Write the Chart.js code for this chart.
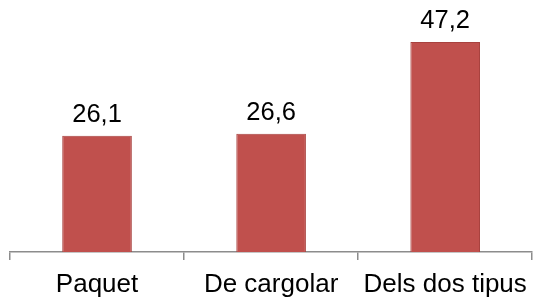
<!DOCTYPE html>
<html>
<head>
<meta charset="utf-8">
<script src="https://cdn.jsdelivr.net/npm/chart.js@4"></script>
<style>
  html, body { margin: 0; padding: 0; background: #fff; }
  #wrap { width: 536px; height: 298px; }
</style>
</head>
<body>
<div id="wrap"><canvas id="myChart"></canvas></div>
<script>
let labels = ['Paquet', 'De cargolar', 'Dels dos tipus'];
let values = [26.1, 26.6, 47.2];

// draw the value above each bar, with a decimal comma
const valueLabels = {
  id: 'valueLabels',
  afterDatasetsDraw(chart) {
    const ctx = chart.ctx;
    const meta = chart.getDatasetMeta(0);
    ctx.save();
    ctx.font = '25.5px "Liberation Sans", Arial, sans-serif';
    ctx.fillStyle = '#000';
    ctx.textAlign = 'center';
    ctx.textBaseline = 'alphabetic';
    meta.data.forEach((bar, i) => {
      ctx.fillText(values[i].toFixed(1).replace('.', ','), bar.x, bar.y - 14);
    });
    ctx.restore();
  }
};

let ctx = document.getElementById('myChart').getContext('2d');

let chart = new Chart(ctx, {
  type: 'bar',
  data: {
    labels: labels,
    datasets: [{
      data: values,
      backgroundColor: '#C0504D',
      borderColor: '#A8423F',
      borderWidth: 1
    }]
  },
  options: {
    responsive: true,
    maintainAspectRatio: false,
    animation: false,
    layout: { padding: { top: 29.5, left: 10, right: 1, bottom: 0 } },
    plugins: {
      legend: { display: false },
      tooltip: { enabled: false }
    },
    datasets: {
      bar: { categoryPercentage: 1, barPercentage: 0.4 }
    },
    scales: {
      x: {
        grid: {
          offset: true,
          drawOnChartArea: false,
          tickLength: 8,
          color: '#8c8c8c',
          lineWidth: 1.5
        },
        border: { color: '#8c8c8c', width: 1.5 },
        ticks: {
          color: '#000',
          padding: 9,
          maxRotation: 0,
          autoSkip: false,
          font: { family: '"Liberation Sans", Arial, sans-serif', size: 26 }
        },
        afterFit(scale) { scale.height = 46; }
      },
      y: {
        display: false,
        min: 0,
        max: 50
      }
    }
  },
  plugins: [valueLabels]
});
</script>
</body>
</html>
